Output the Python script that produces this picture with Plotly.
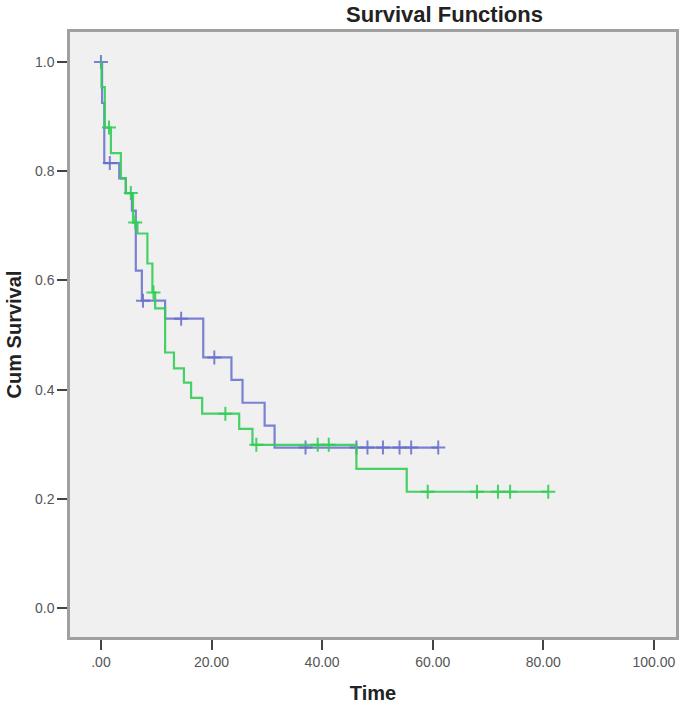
import plotly.graph_objects as go

# group 1 (blue): event times and Kaplan-Meier survival after each step
blue_event_t = [0.0, 0.2, 0.6, 3.3, 4.5, 5.6, 6.3, 7.4, 11.6, 18.5, 23.6, 25.6, 29.6, 31.4]
blue_surv = [1.0, 0.925, 0.815, 0.787, 0.76, 0.728, 0.618, 0.563, 0.53, 0.459, 0.418, 0.376, 0.334, 0.294]
blue_cens_t = [0.0, 1.6, 7.6, 14.5, 20.5, 37.0, 46.2, 48.2, 51.0, 54.0, 56.1, 61.0]

# group 2 (green)
green_event_t = [0.0, 0.1, 0.7, 1.8, 3.6, 4.5, 5.8, 6.6, 8.4, 9.3, 9.8, 11.6, 13.2,
                 15.0, 16.3, 18.3, 25.0, 27.4, 46.2, 55.3]
green_surv = [1.0, 0.954, 0.88, 0.833, 0.787, 0.76, 0.706, 0.686, 0.631, 0.578, 0.549,
              0.468, 0.439, 0.413, 0.385, 0.356, 0.328, 0.299, 0.255, 0.213]
green_cens_t = [1.45, 5.4, 6.2, 9.5, 22.5, 28.1, 39.2, 41.2, 59.1, 68.0, 71.8, 74.0, 80.9]

x_ticks = [0, 20, 40, 60, 80, 100]
x_tick_text = [".00", "20.00", "40.00", "60.00", "80.00", "100.00"]
y_ticks = [0.0, 0.2, 0.4, 0.6, 0.8, 1.0]

BLUE = "rgba(100,110,205,0.85)"
GREEN = "rgba(50,205,85,0.9)"


def surv_at(times, surv, t):
    s = surv[0]
    for ti, si in zip(times, surv):
        if ti <= t:
            s = si
    return s


fig = go.Figure()
for ev_t, sv, cens, col in [(blue_event_t, blue_surv, blue_cens_t, BLUE),
                            (green_event_t, green_surv, green_cens_t, GREEN)]:
    end_t = max(cens[-1], ev_t[-1])
    fig.add_trace(go.Scatter(x=ev_t + [end_t], y=sv + [sv[-1]], mode="lines",
                             line=dict(color=col, width=2.2, shape="hv"),
                             showlegend=False))
    fig.add_trace(go.Scatter(x=cens, y=[surv_at(ev_t, sv, t) for t in cens],
                             mode="markers",
                             marker=dict(symbol="cross-thin", size=10,
                                         line=dict(color=col, width=2)),
                             showlegend=False))

fig.update_layout(
    width=687, height=712,
    margin=dict(l=70, r=11, t=32, b=75),
    paper_bgcolor="white", plot_bgcolor="#f0f0f0",
    font=dict(family="Liberation Sans, Arial, sans-serif", color="#333"),
    title=dict(text="<b>Survival Functions</b>", font=dict(size=22, color="#222"),
               xref="container", x=0.647, xanchor="center",
               yref="container", y=0.98, yanchor="middle"),
)
fig.update_xaxes(range=[-5.6, 104], tickvals=x_ticks, ticktext=x_tick_text,
                 showgrid=False, zeroline=False, showline=True, mirror=True,
                 linecolor="#a0a0a0", linewidth=2.5, ticks="outside", ticklen=10,
                 tickwidth=1.5, tickcolor="#444", tickfont=dict(size=14, color="#555"),
                 automargin=False,
                 title=dict(text="<b>Time</b>", font=dict(size=20, color="#222"), standoff=18))
fig.update_yaxes(range=[-0.053, 1.055], tickvals=y_ticks, tickformat=".1f",
                 showgrid=False, zeroline=False, showline=True, mirror=True,
                 linecolor="#a0a0a0", linewidth=2.5, ticks="outside", ticklen=10,
                 tickwidth=1.5, tickcolor="#444", tickfont=dict(size=14, color="#555"),
                 automargin=False,
                 title=dict(text="<b>Cum Survival</b>", font=dict(size=20, color="#222"), standoff=8))

fig.write_html("out.html", config={"displayModeBar": False},
               post_script="document.body.style.margin='0';")
